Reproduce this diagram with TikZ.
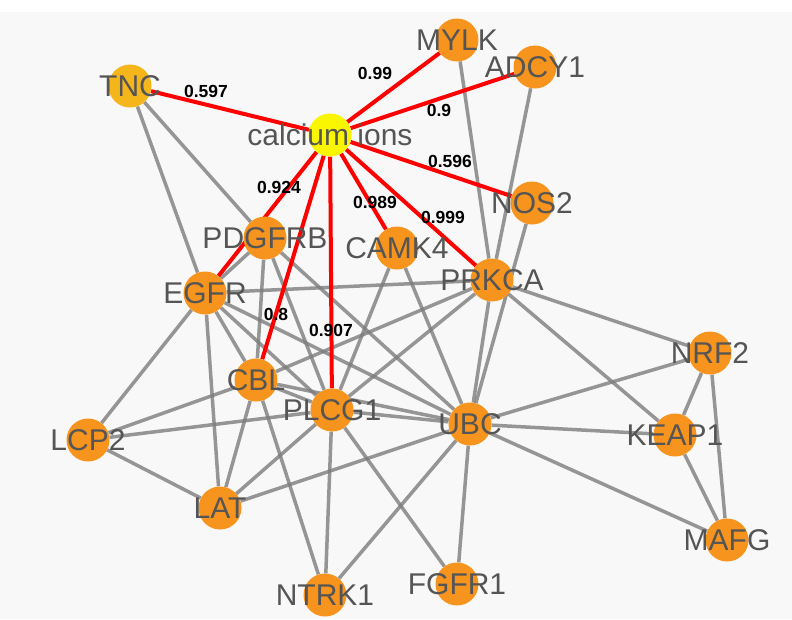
\documentclass[tikz,border=0pt]{standalone}
\usepackage{fontspec}
\setmainfont{Liberation Sans}

\definecolor{geneorange}{RGB}{247,148,30}
\definecolor{tncgold}{RGB}{245,182,28}
\definecolor{ionyellow}{RGB}{250,245,0}
\definecolor{edgegray}{RGB}{125,125,125}
\definecolor{labelgray}{RGB}{85,85,85}
\definecolor{canvas}{RGB}{248,248,248}

\pgfdeclarelayer{bg}
\pgfdeclarelayer{edges}
\pgfsetlayers{bg,edges,main}

\tikzset{
  gene/.style={circle, fill=geneorange, minimum size=43pt, inner sep=0pt},
  genelabel/.style={text=labelgray, font=\fontsize{30}{30}\selectfont, inner sep=0pt},
  ppi/.style={draw=edgegray, line width=3.5pt, draw opacity=0.8},
  hit/.style={draw=red, line width=4pt},
  score/.style={font=\fontsize{17.5}{17.5}\selectfont\bfseries, text=black, inner sep=0pt},
}

\begin{document}
\begin{tikzpicture}[x=1pt, y=-1pt]

\useasboundingbox (0,0) rectangle (792,619);

% Canvas
\begin{pgfonlayer}{bg}
\fill[white] (0,0) rectangle (792,619);
\fill[canvas] (0,12) rectangle (792,619);
\end{pgfonlayer}

% ========== Nodes ==========
\node[gene, fill=ionyellow, label={[genelabel]center:calcium ions}] (ca) at (330,135) {};
\node[gene, fill=tncgold, label={[genelabel]center:TNC}] (tnc) at (130,86) {};
\node[gene, label={[genelabel]center:MYLK}] (mylk) at (457,40) {};
\node[gene, label={[genelabel]center:ADCY1}] (adcy1) at (535,67) {};
\node[gene, label={[genelabel]center:NOS2}] (nos2) at (532,203) {};
\node[gene, label={[genelabel]center:PDGFRB}] (pdgfrb) at (265,238) {};
\node[gene, label={[genelabel]center:CAMK4}] (camk4) at (397,248) {};
\node[gene, label={[genelabel]center:PRKCA}] (prkca) at (492,280) {};
\node[gene, label={[genelabel]center:EGFR}] (egfr) at (205,293) {};
\node[gene, label={[genelabel]center:NRF2}] (nrf2) at (710,353) {};
\node[gene, label={[genelabel]center:CBL}] (cbl) at (256,380) {};
\node[gene, label={[genelabel]center:PLCG1}] (plcg1) at (332,410) {};
\node[gene, label={[genelabel]center:UBC}] (ubc) at (470,424) {};
\node[gene, label={[genelabel]center:KEAP1}] (keap1) at (675,435) {};
\node[gene, label={[genelabel]center:LCP2}] (lcp2) at (88,440) {};
\node[gene, label={[genelabel]center:LAT}] (lat) at (220,508) {};
\node[gene, label={[genelabel]center:MAFG}] (mafg) at (727,540) {};
\node[gene, label={[genelabel]center:NTRK1}] (ntrk1) at (325,595) {};
\node[gene, label={[genelabel]center:FGFR1}] (fgfr1) at (457,584) {};

% ========== Edges ==========
\begin{pgfonlayer}{edges}
% interactions between proteins
\foreach \a/\b in {tnc/egfr, tnc/pdgfrb, mylk/prkca, adcy1/prkca, nos2/ubc,
    prkca/egfr, prkca/cbl, prkca/plcg1, prkca/ubc, prkca/nrf2, prkca/keap1,
    pdgfrb/egfr, pdgfrb/cbl, pdgfrb/plcg1, pdgfrb/ubc, camk4/plcg1, camk4/ubc,
    egfr/cbl, egfr/plcg1, egfr/ubc, egfr/lat, egfr/lcp2,
    cbl/plcg1, cbl/ubc, cbl/lcp2, cbl/lat, cbl/ntrk1,
    plcg1/ubc, plcg1/lcp2, plcg1/lat, plcg1/ntrk1, plcg1/fgfr1,
    ubc/lat, ubc/ntrk1, ubc/fgfr1, ubc/nrf2, ubc/keap1, ubc/mafg,
    lcp2/lat, nrf2/keap1, nrf2/mafg, keap1/mafg}
  \draw[ppi] (\a) -- (\b);
% links of calcium ions
\foreach \t in {tnc, mylk, adcy1, nos2, prkca, camk4, plcg1, cbl, egfr}
  \draw[hit] (ca) -- (\t);
\end{pgfonlayer}

% ========== Scores ==========
\node[score] (s-tnc) at (206,91) {0.597};
\node[score] (s-mylk) at (375,73) {0.99};
\node[score] (s-adcy1) at (439,110) {0.9};
\node[score] (s-nos2) at (450,161) {0.596};
\node[score] (s-prkca) at (443,217) {0.999};
\node[score] (s-camk4) at (375,202) {0.989};
\node[score] (s-egfr) at (279,187) {0.924};
\node[score] (s-cbl) at (276,314) {0.8};
\node[score] (s-plcg1) at (331,330) {0.907};

\end{tikzpicture}
\end{document}
